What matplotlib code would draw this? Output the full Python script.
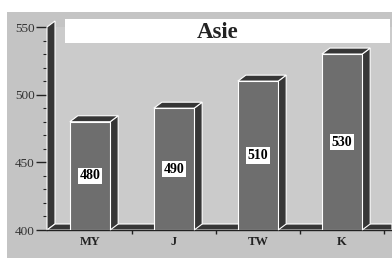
import matplotlib
matplotlib.use("Agg")
import matplotlib.pyplot as plt
from matplotlib.patches import Rectangle, Polygon

countries = ["MY", "J", "TW", "K"]
values = [480, 490, 510, 530]
title = "Asie"
y_ticks = [400, 450, 500, 550]

W, H = 392, 258
fig = plt.figure(figsize=(W / 100, H / 100), dpi=100, facecolor="white")
# grey printed frame (paper shows at top and left)
fig.patches.append(Rectangle((7 / W, 0), 1, (H - 12) / H, transform=fig.transFigure,
                             facecolor="#c4c4c4", edgecolor="none", zorder=-10))

ax = fig.add_axes([47 / W, 28 / H, (W - 47) / W, 203 / H])
ax.set_facecolor("#cbcbcb")
x0, x1 = -0.512, 3.595
ax.set_xlim(x0, x1)
ax.set_ylim(400, 550)

dx, dy = 8 / 84, 6 / (203 / 150)   # 3D depth offset in data units
bw = 0.48
dark, front, edge = "#363636", "#6e6e6e", "white"

# left wall and floor
ax.add_patch(Polygon([(x0, 400), (x0, 550), (x0 + dx, 550 + dy), (x0 + dx, 400 + dy)],
                     closed=True, facecolor=dark, edgecolor=edge, lw=0.8, clip_on=False, zorder=2))
ax.add_patch(Polygon([(x0, 400), (x0 + dx, 400 + dy), (x1, 400 + dy), (x1, 400)],
                     closed=True, facecolor=dark, edgecolor=edge, lw=0.8, zorder=2))

xs = list(range(len(countries)))
ax.bar(xs, [v - 400 for v in values], bottom=400, width=bw, color=front,
       edgecolor=edge, linewidth=0.8, zorder=4)
for x, v in zip(xs, values):
    l, r = x - bw / 2, x + bw / 2
    ax.add_patch(Polygon([(r, 400), (r + dx, 400 + dy), (r + dx, v + dy), (r, v)],
                         closed=True, facecolor=dark, edgecolor=edge, lw=0.8, zorder=3, clip_on=False))
    ax.add_patch(Polygon([(l, v), (l + dx, v + dy), (r + dx, v + dy), (r, v)],
                         closed=True, facecolor=dark, edgecolor=edge, lw=0.8, zorder=3, clip_on=False))
    ax.text(x, (v + 400) / 2, str(v), ha="center", va="center", fontsize=10,
            fontweight="bold", family="Liberation Serif", zorder=6,
            bbox=dict(boxstyle="square,pad=0.12", facecolor="white", edgecolor="none"))

for s in ["top", "right"]:
    ax.spines[s].set_visible(False)
ax.spines["left"].set_visible(False)
ax.spines["bottom"].set_color("#222222")
ax.spines["bottom"].set_linewidth(1.0)

ax.set_yticks(y_ticks)
ax.set_yticklabels([str(t) for t in y_ticks], family="Liberation Serif", fontsize=9.5, color="#333333")
ax.set_yticks(range(400, 551, 10), minor=True)
ax.tick_params(axis="y", which="major", length=8, width=1.0, color="#222222", pad=1)
ax.tick_params(axis="y", which="minor", length=3, width=0.8, color="#222222")

ax.set_xticks(xs)
ax.set_xticklabels(countries, family="Liberation Serif", fontsize=9, fontweight="bold", color="#222222")
ax.set_xticks([0.5, 1.5, 2.5, 3.5], minor=True)
ax.tick_params(axis="x", which="major", length=0, pad=4)
ax.tick_params(axis="x", which="minor", length=3, width=1.0, color="#222222")

# title box
fig.patches.append(Rectangle((65 / W, (H - 43) / H), (390 - 65) / W, 24 / H,
                             transform=fig.transFigure, facecolor="white", edgecolor="none", zorder=5))
fig.text(218 / W, (H - 32) / H, title, ha="center", va="center", fontsize=16.5,
         fontweight="bold", family="Liberation Serif", color="#222222", zorder=6)

fig.savefig("out.png", dpi=100, facecolor=fig.get_facecolor())
